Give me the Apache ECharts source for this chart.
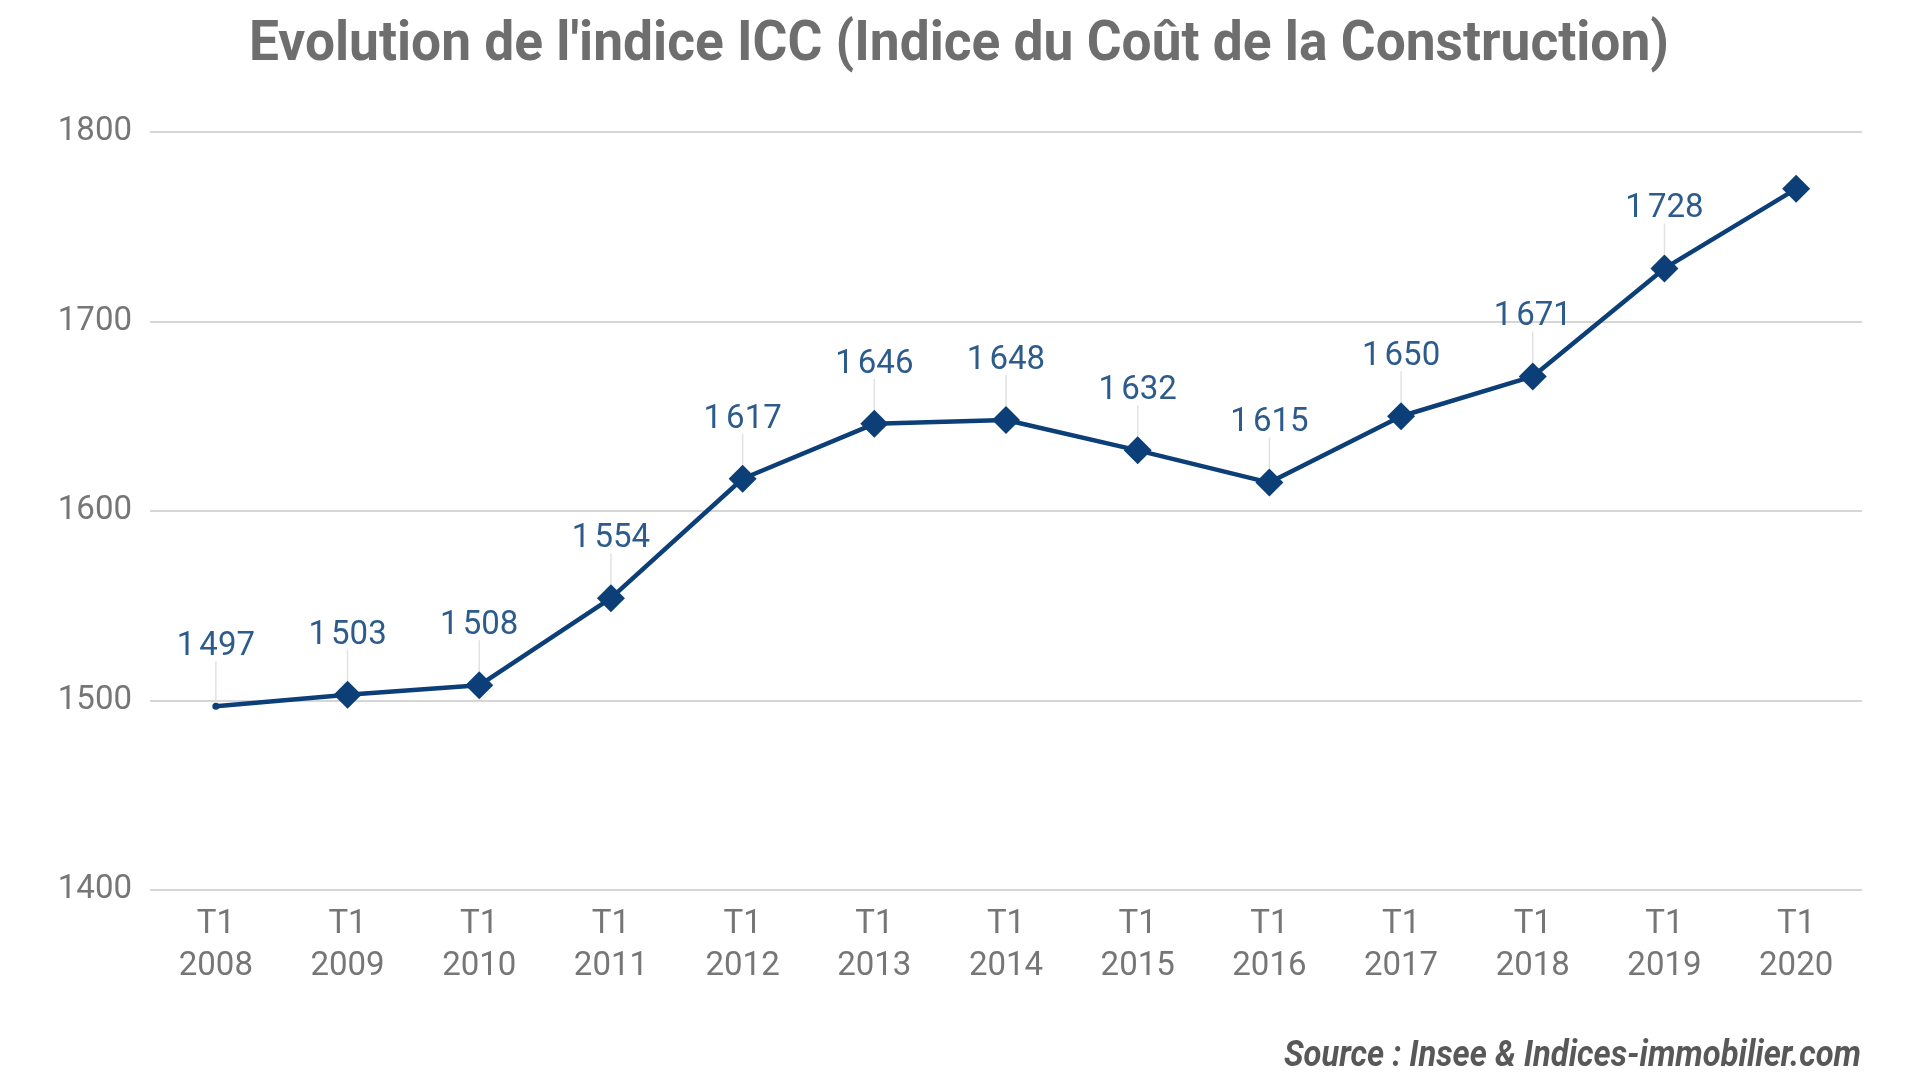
<!DOCTYPE html>
<html>
<head>
<meta charset="utf-8">
<style>html,body{margin:0;padding:0;background:#fff}#c{width:1920px;height:1080px}</style>
<script src="https://cdn.jsdelivr.net/npm/echarts@6/dist/echarts.min.js"></script>
</head>
<body>
<div id="c"></div>
<script>
const titleText = "Evolution de l'indice ICC (Indice du Coût de la Construction)";
const sourceText = "Source : Insee & Indices-immobilier.com";
const quarters = ["T1","T1","T1","T1","T1","T1","T1","T1","T1","T1","T1","T1","T1"];
const years = ["2008","2009","2010","2011","2012","2013","2014","2015","2016","2017","2018","2019","2020"];
const icc = [1497,1503,1508,1554,1617,1646,1648,1632,1615,1650,1671,1728,1770];
const showLabel = [true,true,true,true,true,true,true,true,true,true,true,true,false];
const yTicks = [1400,1500,1600,1700,1800];

const categories = years.map((y,i)=>quarters[i]+"\n"+y);
const fmt = v => { const s = String(v); return s.length > 3 ? s.slice(0, s.length-3) + "\u202F" + s.slice(-3) : s; };

const chart = echarts.init(document.getElementById('c'));

function fitScale(text, font, target){
  const cv = document.createElement('canvas').getContext('2d');
  cv.font = font;
  return target / cv.measureText(text).width;
}
const titleFont = "bold 55px Roboto";
const srcFont = "italic bold 36px Roboto";
const titleScale = fitScale(titleText, titleFont, 1420);
const srcScale = fitScale(sourceText, srcFont, 577);

const lineData = icc.map((v,i)=>{
  const d = {value: v};
  if (i === 0) { d.symbol = 'circle'; d.symbolSize = 7; d.label = {distance: 39}; }
  if (!showLabel[i]) d.label = {show:false};
  return d;
});

chart.setOption({
  backgroundColor: '#ffffff',
  animation: false,
  graphic: [
    {type:'text', x: 959, y: 46, scaleX: titleScale,
     style:{text: titleText, font: titleFont, fill:'#6e6e6e', align:'center', verticalAlign:'middle'}},
    {type:'text', x: 1861, y: 1057, scaleX: srcScale,
     style:{text: sourceText, font: srcFont, fill:'#585858', align:'right', verticalAlign:'middle'}}
  ],
  grid: {left:150, right:58, top:132, bottom:190},
  xAxis: {
    type:'category', data: categories, boundaryGap:true,
    axisLine:{show:false}, axisTick:{show:false},
    axisLabel:{color:'#767676', fontFamily:'Roboto', fontSize:33, lineHeight:42, margin:14, interval:0}
  },
  yAxis: {
    type:'value', min: yTicks[0], max: yTicks[yTicks.length-1], interval: 100,
    axisLine:{show:false}, axisTick:{show:false},
    axisLabel:{color:'#767676', fontFamily:'Roboto', fontSize:33, margin:18, formatter: v => String(v)},
    splitLine:{lineStyle:{color:'#d6d6d6', width:2}}
  },
  series: [
    {
      type:'custom', z: 1, silent:true,
      data: icc.map((v,i)=>[i, v]),
      renderItem: function(params, api){
        const i = api.value(0);
        if (!showLabel[i]) return null;
        const p = api.coord([i, api.value(1)]);
        return {type:'line', shape:{x1:p[0], y1:p[1]-(i===0?4:14), x2:p[0], y2:p[1]-45},
          style:{stroke:'#e2e2e2', lineWidth:1.5}};
      }
    },
    {
      type:'line', z: 3, data: lineData,
      symbol:'diamond', symbolSize:28,
      lineStyle:{color:'#0c3f77', width:4.5},
      itemStyle:{color:'#0c3f77'},
      label:{show:true, position:'top', distance:29, color:'#2c5b8c', fontFamily:'Roboto', fontSize:33,
        formatter: p => fmt(p.value)}
    }
  ]
});
</script>
</body>
</html>
